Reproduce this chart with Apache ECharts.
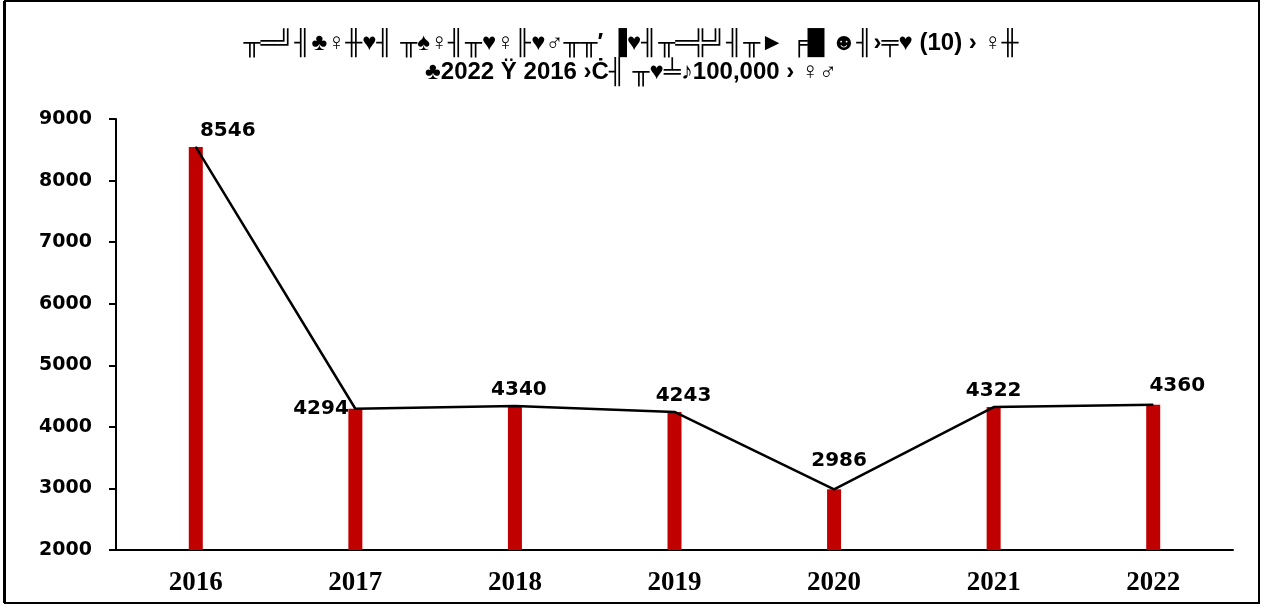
<!DOCTYPE html>
<html>
<head>
<meta charset="utf-8">
<script src="https://cdn.jsdelivr.net/npm/echarts@6/dist/echarts.min.js"></script>
<style>
  html, body { margin: 0; padding: 0; background: #fff; }
  #chart { width: 1262px; height: 606px; }
</style>
</head>
<body>
<div id="chart"></div>
<script>
  const years = ['2016', '2017', '2018', '2019', '2020', '2021', '2022']
  const values = [8546, 4294, 4340, 4243, 2986, 4322, 4360]
  const yTicks = [2000, 3000, 4000, 5000, 6000, 7000, 8000, 9000]
  const titleLines = [
    '╥═╝╢♣♀╫♥╢ ╥♠♀╢╥♥♀╟♥♂╥╥′ ▐♥╢╥═╬╝╢╥► ╒█ ☻╢›╤♥ (10) › ♀╫',
    '♣2022 Ÿ 2016 ›Ċ╢ ╥♥╧♪100,000 › ♀♂'
  ]
  // label placement per point, like the original
  const labelPos = ['top', 'left', 'top', 'top', 'top', 'top', 'top']
  const labelOff = [[32, 0], [0, 0], [4, 0], [9, 0], [5, -12], [0, 0], [24, -2]]

  const chart = echarts.init(document.getElementById('chart'))
  const option = {
    animation: false,
    title: {
      text: titleLines.join('\n'),
      left: 'center',
      top: 24,
      textStyle: {
        fontFamily: 'Liberation Sans, Arial',
        fontWeight: 'bold',
        fontSize: 24,
        lineHeight: 29,
        color: '#000'
      }
    },
    graphic: [{
      type: 'rect',
      shape: { x: 5, y: 1, width: 1254, height: 602 },
      style: { fill: 'none', stroke: '#000', lineWidth: 2 }
    }, {
      type: 'rect',
      shape: { x: 3, y: 1, width: 3, height: 602 },
      style: { fill: '#000' }
    }],
    grid: { left: 116, right: 29, top: 119, bottom: 56 },
    xAxis: {
      type: 'category',
      data: years,
      axisLine: { lineStyle: { color: '#000', width: 2 } },
      axisTick: { show: false },
      axisLabel: {
        margin: 20,
        fontFamily: 'Liberation Serif, Times New Roman',
        fontWeight: 'bold',
        fontSize: 27,
        color: '#000'
      }
    },
    yAxis: {
      type: 'value',
      min: yTicks[0],
      max: yTicks[yTicks.length - 1],
      interval: 1000,
      splitLine: { show: false },
      axisLine: { show: true, lineStyle: { color: '#000', width: 2 } },
      axisTick: { show: true, length: 7, lineStyle: { color: '#000', width: 2 } },
      axisLabel: {
        margin: 24,
        formatter: v => String(v),
        fontFamily: 'DejaVu Sans, Verdana',
        fontWeight: 'bold',
        fontSize: 19,
        color: '#000'
      }
    },
    series: [
      {
        type: 'bar',
        data: values,
        barWidth: 14,
        itemStyle: { color: '#C00000' }
      },
      {
        type: 'line',
        data: values.map((v, i) => ({
          value: v,
          label: { position: labelPos[i], offset: labelOff[i] }
        })),
        symbol: 'circle',
        symbolSize: 1,
        showSymbol: true,
        itemStyle: { color: '#000' },
        lineStyle: { color: '#000', width: 2.5 },
        label: {
          show: true,
          distance: 6,
          fontFamily: 'DejaVu Sans, Verdana',
          fontWeight: 'bold',
          fontSize: 20,
          color: '#000'
        }
      }
    ]
  }
  chart.setOption(option)
</script>
</body>
</html>
